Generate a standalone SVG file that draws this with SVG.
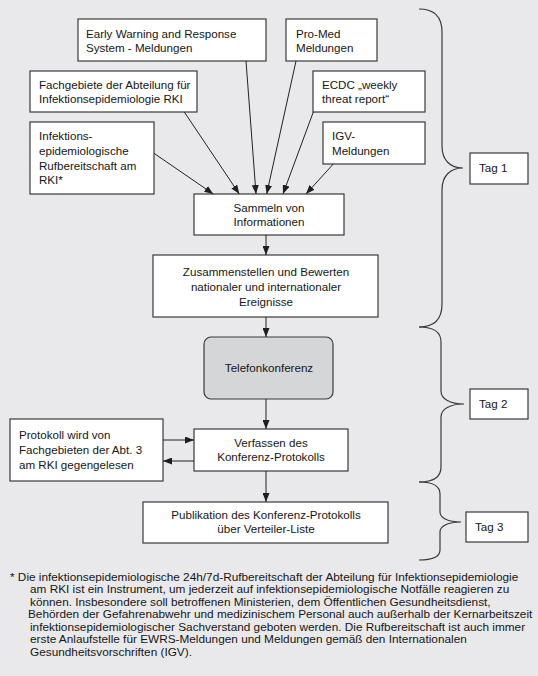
<svg xmlns="http://www.w3.org/2000/svg" width="538" height="676" viewBox="0 0 538 676">
<style>
.bx{fill:#fff;stroke:#3a3a3a;stroke-width:1.2}
.tel{fill:#d5d6d8;stroke:#3a3a3a;stroke-width:1.2}
text{font-family:"Liberation Sans",Arial,sans-serif;font-size:11.6px;fill:#161616}
.c{text-anchor:middle}
.fn{font-size:11.8px}
.ln{stroke:#222;stroke-width:1;fill:none}
.br{stroke:#3a3a3a;stroke-width:1.2;fill:none}
</style>
<defs>
<marker id="ah" markerWidth="9" markerHeight="7" refX="9" refY="3.5" orient="auto" markerUnits="userSpaceOnUse">
<path d="M0,0 L9,3.5 L0,7 Z" fill="#1e1e1e"/>
</marker>
</defs>
<rect x="0" y="0" width="538" height="676" fill="#e9e9eb"/>

<g id="ewrs"><rect class="bx" x="78" y="19" width="188" height="42"/>
<text x="86" y="37.5">Early Warning and Response</text><text x="86" y="51.5">System - Meldungen</text></g>
<g id="promed"><rect class="bx" x="286" y="19" width="91" height="42"/>
<text x="296" y="37.5">Pro-Med</text><text x="296" y="51.5">Meldungen</text></g>
<g id="fachgebiete"><rect class="bx" x="30" y="71" width="167" height="41"/>
<text x="39" y="88.5">Fachgebiete der Abteilung für</text><text x="39" y="103">Infektionsepidemiologie RKI</text></g>
<g id="ecdc"><rect class="bx" x="313" y="71" width="112" height="41"/>
<text x="322" y="88.5">ECDC „weekly</text><text x="322" y="103">threat report“</text></g>
<g id="rufbereitschaft"><rect class="bx" x="30" y="122" width="124" height="72"/>
<text x="39" y="140">Infektions-</text><text x="39" y="154.7">epidemiologische</text><text x="39" y="169.5">Rufbereitschaft am</text><text x="39" y="184">RKI*</text></g>
<g id="igv"><rect class="bx" x="323" y="122" width="102" height="42"/>
<text x="332" y="140">IGV-</text><text x="332" y="154.7">Meldungen</text></g>
<g id="sammeln"><rect class="bx" x="194" y="194" width="150" height="41"/>
<text class="c" x="269" y="211.7">Sammeln von</text><text class="c" x="269" y="225.7">Informationen</text></g>
<g id="zusammenstellen"><rect class="bx" x="153" y="255" width="225" height="62"/>
<text class="c" x="266" y="276.3">Zusammenstellen und Bewerten</text><text class="c" x="266" y="290.8">nationaler und internationaler</text><text class="c" x="266" y="305.6">Ereignisse</text></g>
<g id="telefonkonferenz"><rect class="tel" x="204" y="337" width="129" height="62" rx="7"/>
<text class="c" x="269" y="372.3">Telefonkonferenz</text></g>
<g id="gegenlesen"><rect class="bx" x="10" y="419" width="153" height="62"/>
<text x="19" y="439">Protokoll wird von</text><text x="19" y="454">Fachgebieten der Abt. 3</text><text x="19" y="469">am RKI gegengelesen</text></g>
<g id="verfassen"><rect class="bx" x="194" y="429" width="154" height="42"/>
<text class="c" x="271" y="446.7">Verfassen des</text><text class="c" x="271" y="461.3">Konferenz-Protokolls</text></g>
<g id="publikation"><rect class="bx" x="143" y="502" width="245" height="41"/>
<text class="c" x="266" y="519">Publikation des Konferenz-Protokolls</text><text class="c" x="266" y="533.3">über Verteiler-Liste</text></g>
<g id="tag1"><rect class="bx" x="470" y="153" width="58" height="31"/><text x="479" y="172">Tag 1</text></g>
<g id="tag2"><rect class="bx" x="470" y="389" width="58" height="30"/><text x="479" y="408.3">Tag 2</text></g>
<g id="tag3"><rect class="bx" x="466" y="512" width="62" height="30"/><text x="475" y="530.7">Tag 3</text></g>

<g id="connectors">
<line class="ln" x1="154" y1="153.3" x2="213.3" y2="194" marker-end="url(#ah)"/>
<line class="ln" x1="184.3" y1="112" x2="239.3" y2="194" marker-end="url(#ah)"/>
<line class="ln" x1="246" y1="61" x2="256" y2="194" marker-end="url(#ah)"/>
<line class="ln" x1="296" y1="61" x2="266.7" y2="194" marker-end="url(#ah)"/>
<line class="ln" x1="313.3" y1="112" x2="283" y2="194" marker-end="url(#ah)"/>
<line class="ln" x1="333.3" y1="164" x2="306" y2="194" marker-end="url(#ah)"/>
<line class="ln" x1="266" y1="235" x2="266" y2="255" marker-end="url(#ah)"/>
<line class="ln" x1="266" y1="317" x2="266" y2="337" marker-end="url(#ah)"/>
<line class="ln" x1="266" y1="399" x2="266" y2="429" marker-end="url(#ah)"/>
<line class="ln" x1="266" y1="471" x2="266" y2="502" marker-end="url(#ah)"/>
<line class="ln" x1="163" y1="440" x2="194" y2="440" marker-end="url(#ah)"/>
<line class="ln" x1="194" y1="461" x2="163" y2="461" marker-end="url(#ah)"/>
</g>

<g id="braces">
<path class="br" d="M419,9 C434,9 442,17 442,32 L442,146 C442,160 450,168 463,168 C450,168 442,176 442,190 L442,304 C442,319 434,327 419,327"/>
<path class="br" d="M419,327 C433,327 441,332 441,342 L441,391 C441,399 450,404 464,404 C450,404 441,409 441,417 L441,467 C441,477 433,482 419,482"/>
<path class="br" d="M419,482 C432,482 440,486 440,494 L440,512 C440,518 448,522 461,522 C448,522 440,526 440,532 L440,550 C440,557 432,560 419,560"/>
</g>

<g id="footnote">
<text class="fn" x="10" y="580.5">* Die infektionsepidemiologische 24h/7d-Rufbereitschaft der Abteilung für Infektionsepidemiologie</text>
<text class="fn" x="30" y="593">am RKI ist ein Instrument, um jederzeit auf infektionsepidemiologische Notfälle reagieren zu</text>
<text class="fn" x="30" y="605.6">können. Insbesondere soll betroffenen Ministerien, dem Öffentlichen Gesundheitsdienst,</text>
<text class="fn" x="28" y="618.1">Behörden der Gefahrenabwehr und medizinischem Personal auch außerhalb der Kernarbeitszeit</text>
<text class="fn" x="30" y="630.7">infektionsepidemiologischer Sachverstand geboten werden. Die Rufbereitschaft ist auch immer</text>
<text class="fn" x="30" y="643.2">erste Anlaufstelle für EWRS-Meldungen und Meldungen gemäß den Internationalen</text>
<text class="fn" x="30" y="655.8">Gesundheitsvorschriften (IGV).</text>
</g>
</svg>
